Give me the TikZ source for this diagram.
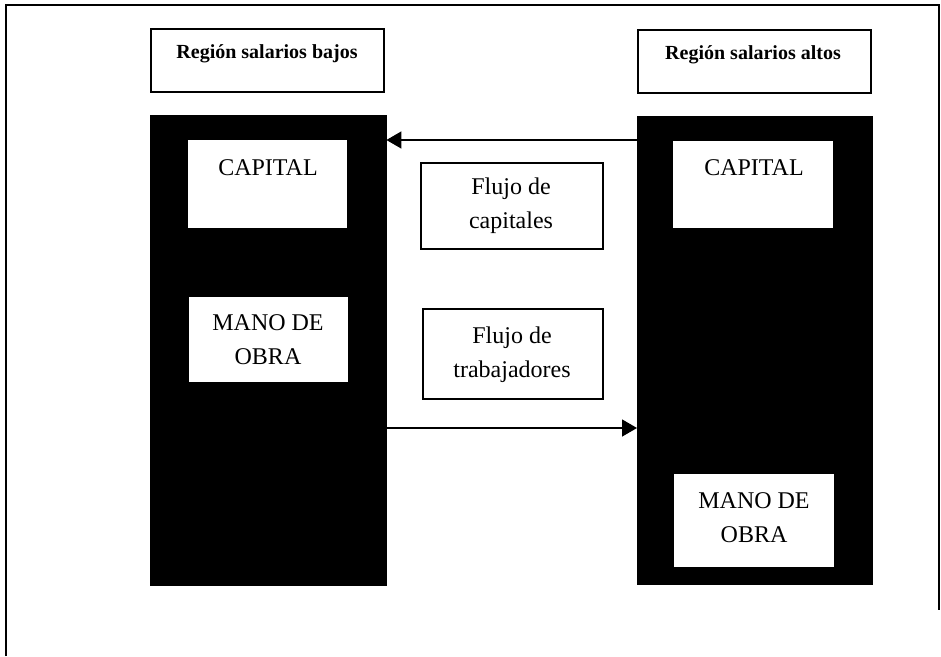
\documentclass[tikz,border=0pt]{standalone}
\usepackage{fontspec}
\setmainfont{Liberation Serif}
\usetikzlibrary{arrows.meta}
\begin{document}
\begin{tikzpicture}[x=1pt,y=-1pt,
  framebox/.style={draw=black,line width=1.6pt,fill=white,anchor=north west,inner sep=0pt},
  column/.style={fill=black,draw=black,anchor=north west,inner sep=0pt},
  inbox/.style={fill=white,anchor=north west,inner sep=0pt},
  big/.style={font=\fontsize{24}{34}\selectfont,align=center,inner sep=0pt},
  head/.style={font=\bfseries\fontsize{20}{24}\selectfont,inner sep=0pt},
  flow/.style={line width=1.4pt,-{Triangle[length=15pt,width=17pt]}}]
\useasboundingbox (0,0) rectangle (941,656);
\fill[white] (0,0) rectangle (941,656);
% outer frame
\draw[line width=1.8pt] (6,656) -- (6,5) -- (939,5) -- (939,610);
% header boxes
\node[framebox,minimum width=233,minimum height=63] (hL) at (150,28) {};
\node[head] (hLt) at (267,54) {Región salarios bajos};
\node[framebox,minimum width=233,minimum height=63] (hR) at (637,29) {};
\node[head] (hRt) at (753,55) {Región salarios altos};
% black columns
\node[column,minimum width=236,minimum height=470] (cL) at (150,115) {};
\node[column,minimum width=235,minimum height=468] (cR) at (637,116) {};
% white inner boxes
\node[inbox,minimum width=159,minimum height=88] (kL) at (188,140) {};
\node[big] (kLt) at (268,168) {CAPITAL};
\node[inbox,minimum width=159,minimum height=85] (mL) at (189,297) {};
\node[big] (mLt) at (268,340) {MANO DE\\OBRA};
\node[inbox,minimum width=160,minimum height=87] (kR) at (673,141) {};
\node[big] (kRt) at (754,168) {CAPITAL};
\node[inbox,minimum width=160,minimum height=93] (mR) at (674,474) {};
\node[big] (mRt) at (754,518) {MANO DE\\OBRA};
% flow boxes
\node[framebox,minimum width=182,minimum height=86] (fC) at (420,162) {};
\node[big] (fCt) at (511,206) {Flujo de\\capitales};
\node[framebox,minimum width=180,minimum height=90] (fT) at (422,308) {};
\node[big] (fTt) at (512,355) {Flujo de\\trabajadores};
% arrows
\draw[flow] (cR.west |- 0,140) -- (cL.east |- 0,140);
\draw[flow] (cL.east |- 0,428) -- (cR.west |- 0,428);
\end{tikzpicture}
\end{document}
